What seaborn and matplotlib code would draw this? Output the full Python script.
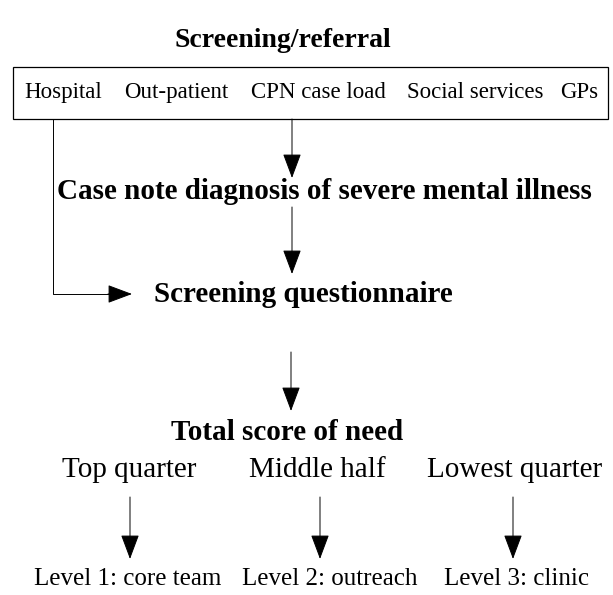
import matplotlib
matplotlib.use("Agg")
import matplotlib.pyplot as plt
import seaborn as sns

sns.set_style("white")
plt.rcParams["font.family"] = ["Liberation Serif", "DejaVu Serif"]
plt.rcParams["text.color"] = "black"

title = "Screening/referral"
sources = ["Hospital", "Out-patient", "CPN case load", "Social services", "GPs"]
source_x = [63, 176, 318, 475, 579]
steps = ["Case note diagnosis of severe mental illness",
         "Screening questionnaire",
         "Total score of need"]
step_xy = [(324, 199), (303, 302), (287, 440)]
bands = ["Top quarter", "Middle half", "Lowest quarter"]
band_x = [129, 317, 515]
levels = ["Level 1: core team", "Level 2: outreach", "Level 3: clinic"]
level_x = [128, 330, 516]
arrow_x = [130, 320, 513]

fig = plt.figure(figsize=(6.13, 5.95), dpi=100)
ax = fig.add_axes([0, 0, 1, 1])
ax.set_xlim(0, 613)
ax.set_ylim(595, 0)
ax.axis("off")

ax.text(283, 47, title, ha="center", va="baseline", fontsize=20, fontweight="bold")

ax.add_patch(plt.Rectangle((13, 67), 595, 52, fill=False, lw=0.9, ec="black"))
for x, s in zip(source_x, sources):
    ax.text(x, 98, s, ha="center", va="baseline", fontsize=16.5)

for (x, y), s in zip(step_xy, steps):
    ax.text(x, y, s, ha="center", va="baseline", fontsize=21, fontweight="bold")

for x, s in zip(band_x, bands):
    ax.text(x, 477, s, ha="center", va="baseline", fontsize=21)
for x, s in zip(level_x, levels):
    ax.text(x, 585, s, ha="center", va="baseline", fontsize=18)

arrow = dict(arrowstyle="-|>,head_length=1.55,head_width=0.58", lw=0.7,
             color="black", shrinkA=0, shrinkB=0, mutation_scale=10)

# main spine
ax.annotate("", xy=(292, 178), xytext=(292, 119), arrowprops=arrow)
ax.annotate("", xy=(292, 274), xytext=(292, 207), arrowprops=arrow)
ax.annotate("", xy=(291, 411), xytext=(291, 352), arrowprops=arrow)

# hospital bypass
ax.plot([53, 53, 110], [119, 294, 294], color="black", lw=0.7)
ax.annotate("", xy=(132, 294), xytext=(108, 294), arrowprops=arrow)

for x in arrow_x:
    ax.annotate("", xy=(x, 559), xytext=(x, 497), arrowprops=arrow)

fig.savefig("out.png", dpi=100)
